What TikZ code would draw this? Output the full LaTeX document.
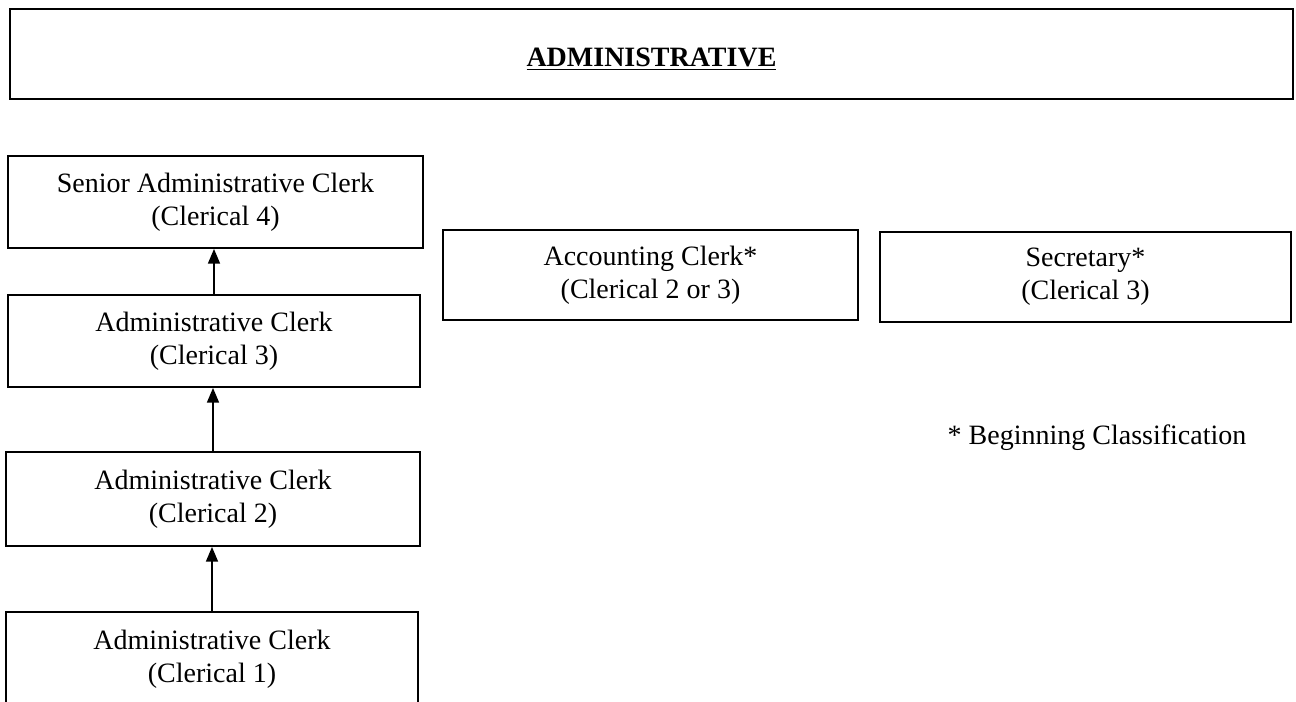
\documentclass[tikz,border=0pt]{standalone}
\usepackage{fontspec}
\setmainfont{Liberation Serif}
\usetikzlibrary{arrows.meta}
\begin{document}
\begin{tikzpicture}[x=0.75pt,y=-0.75pt,
  box/.style={draw, line width=1.4pt, align=center, inner sep=0pt,
    font=\fontsize{21}{24.75}\selectfont},
  note/.style={align=center, inner sep=0pt, font=\fontsize{21}{24.75}\selectfont},
  up/.style={-{Triangle[length=11pt,width=9pt]}, line width=1.1pt}]
\useasboundingbox (0,0) rectangle (1296,701);
\clip (0,0) rectangle (1296,701);
\node[box, minimum width=962.25pt, minimum height=67.5pt,
  text height=23pt, text depth=4pt] (top) at (651.5,54)
  {\bfseries\underline{ADMINISTRATIVE}};
\node[box, minimum width=311.25pt, minimum height=69pt] (senior) at (215.5,202)
  {Senior Administrative Clerk\\(Clerical 4)};
\node[box, minimum width=309pt, minimum height=69pt] (adm3) at (214,341)
  {Administrative Clerk\\(Clerical 3)};
\node[box, minimum width=310.5pt, minimum height=70.5pt] (adm2) at (213,499)
  {Administrative Clerk\\(Clerical 2)};
\node[box, minimum width=309pt, minimum height=70.5pt] (adm1) at (212,659)
  {Administrative Clerk\\(Clerical 1)};
\node[box, minimum width=311.25pt, minimum height=67.5pt] (acct) at (650.5,275)
  {Accounting Clerk*\\(Clerical 2 or 3)};
\node[box, minimum width=308.25pt, minimum height=67.5pt] (sec) at (1085.5,277)
  {Secretary*\\(Clerical 3)};
\node[note] (legend) at (1097,438) {* Beginning Classification};
\draw[up] (adm3.north) -- (adm3.north |- senior.south);
\draw[up] (adm2.north) -- (adm2.north |- adm3.south);
\draw[up] (adm1.north) -- (adm1.north |- adm2.south);
\end{tikzpicture}
\end{document}
